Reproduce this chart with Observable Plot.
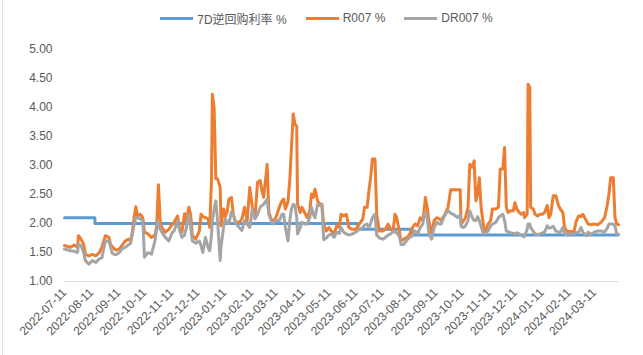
<!DOCTYPE html>
<html><head><meta charset="utf-8">
<script src="https://cdn.jsdelivr.net/npm/d3@7"></script>
<script src="https://cdn.jsdelivr.net/npm/@observablehq/plot@0.6"></script>
<style>
body{margin:0;background:#fff;font-family:"Liberation Sans","Noto Sans CJK SC",sans-serif;position:relative}
#legend{height:30px;display:flex;justify-content:center;align-items:center;gap:19px;font-size:12px;color:#595959;padding-top:6px;box-sizing:border-box;padding-left:10px}
.item{display:flex;align-items:center;gap:4px}
.sw{width:33px;height:3px}
#edge{position:absolute;left:2px;top:0;width:1px;height:355px;background:#E3E3E3}
</style></head><body>
<div id="edge"></div>
<div id="legend"></div>
<div id="chart"></div>
<script>
const dates = [
"2022-07-11","2022-07-18","2022-07-22","2022-07-26","2022-07-27","2022-07-30","2022-08-02","2022-08-04","2022-08-08","2022-08-12",
"2022-08-16","2022-08-20","2022-08-23","2022-08-27","2022-08-31","2022-09-02","2022-09-04","2022-09-08","2022-09-12","2022-09-15",
"2022-09-19","2022-09-23","2022-09-25","2022-09-27","2022-09-29","2022-10-01","2022-10-03","2022-10-06","2022-10-09","2022-10-11",
"2022-10-15","2022-10-19","2022-10-23","2022-10-25","2022-10-27","2022-10-29","2022-10-31","2022-11-04","2022-11-08","2022-11-12",
"2022-11-14","2022-11-18","2022-11-20","2022-11-23","2022-11-26","2022-11-28","2022-12-01","2022-12-03","2022-12-05","2022-12-09",
"2022-12-13","2022-12-15","2022-12-17","2022-12-20","2022-12-23","2022-12-25","2022-12-27","2022-12-28","2022-12-30","2023-01-01",
"2023-01-03","2023-01-06","2023-01-07","2023-01-10","2023-01-12","2023-01-14","2023-01-16","2023-01-19","2023-01-21","2023-01-24",
"2023-01-28","2023-01-31","2023-02-03","2023-02-06","2023-02-09","2023-02-12","2023-02-15","2023-02-18","2023-02-21","2023-02-23",
"2023-02-25","2023-03-01","2023-03-03","2023-03-07","2023-03-11","2023-03-15","2023-03-18",
"2023-03-20","2023-03-22","2023-03-25","2023-03-27","2023-03-29","2023-03-31","2023-04-02","2023-04-04","2023-04-05","2023-04-08",
"2023-04-10","2023-04-13","2023-04-16","2023-04-19","2023-04-21","2023-04-23","2023-04-25","2023-04-28","2023-05-01","2023-05-03",
"2023-05-05","2023-05-08","2023-05-11","2023-05-14","2023-05-17","2023-05-20","2023-05-23","2023-05-25","2023-05-28","2023-05-31",
"2023-06-03","2023-06-07","2023-06-11","2023-06-15","2023-06-19","2023-06-21","2023-06-24","2023-06-26","2023-06-28","2023-06-30",
"2023-07-03","2023-07-05","2023-07-08","2023-07-12","2023-07-15","2023-07-18","2023-07-21",
"2023-07-24","2023-07-26","2023-07-28","2023-07-31","2023-08-02","2023-08-05","2023-08-09","2023-08-12","2023-08-15","2023-08-18",
"2023-08-21","2023-08-24","2023-08-27","2023-08-28","2023-08-30","2023-09-01","2023-09-03","2023-09-06","2023-09-09","2023-09-12",
"2023-09-15","2023-09-17","2023-09-20","2023-09-22","2023-09-25","2023-09-28","2023-10-02","2023-10-06","2023-10-09","2023-10-10",
"2023-10-13","2023-10-15","2023-10-18","2023-10-20","2023-10-23","2023-10-25","2023-10-27","2023-10-29","2023-10-31","2023-11-02",
"2023-11-05","2023-11-07","2023-11-10","2023-11-13","2023-11-15","2023-11-19","2023-11-22","2023-11-24","2023-11-27",
"2023-11-29","2023-12-01","2023-12-03","2023-12-06","2023-12-09","2023-12-11","2023-12-13","2023-12-16","2023-12-18","2023-12-21",
"2023-12-22","2023-12-25","2023-12-26","2023-12-28","2023-12-29","2024-01-01","2024-01-03","2024-01-06","2024-01-09","2024-01-12",
"2024-01-14","2024-01-17","2024-01-19","2024-01-21","2024-01-24","2024-01-27","2024-01-30","2024-02-01","2024-02-04","2024-02-06",
"2024-02-09","2024-02-13","2024-02-17","2024-02-19","2024-02-22","2024-02-25","2024-02-27","2024-03-02","2024-03-04","2024-03-07",
"2024-03-11","2024-03-15","2024-03-19","2024-03-23","2024-03-26","2024-03-28","2024-03-30","2024-04-02","2024-04-04","2024-04-06",
"2024-04-08"
];
const r007 = [
1.62,1.59,1.63,1.59,1.79,1.73,1.64,1.47,1.44,1.47,
1.44,1.50,1.59,1.79,1.76,1.64,1.60,1.54,1.56,1.62,
1.70,1.73,1.70,1.85,2.10,2.29,2.13,2.16,2.10,1.85,
1.82,1.76,1.80,1.95,2.67,2.05,1.93,1.85,1.90,1.99,
2.02,2.13,1.93,1.85,2.17,2.05,2.28,2.16,1.79,1.73,
1.87,2.16,2.12,2.10,2.08,1.93,2.75,4.23,4.00,2.77,
2.77,2.62,1.96,2.25,2.12,2.20,2.42,2.45,2.16,2.02,
2.02,2.08,2.28,2.05,2.62,2.28,2.10,2.71,2.74,2.56,
2.45,3.02,2.19,2.02,2.10,2.28,2.39,
2.42,2.25,2.38,2.74,3.31,3.89,3.71,3.68,2.33,2.19,
2.28,2.19,2.10,2.22,2.51,2.45,2.59,2.39,2.33,2.33,
1.99,1.87,1.93,1.87,1.82,1.96,1.93,2.16,2.13,2.16,
1.93,1.90,1.90,1.99,2.08,2.28,2.28,2.56,2.79,3.11,
3.11,2.16,1.87,1.87,1.90,1.99,1.90,
1.90,2.16,2.10,1.87,1.70,1.73,1.76,1.82,1.93,1.99,
1.96,2.10,2.05,2.16,2.45,2.28,2.05,1.82,2.05,2.10,
2.08,2.05,2.12,2.18,2.28,2.58,2.58,2.58,2.58,1.99,
2.05,2.10,2.28,3.02,2.97,3.08,2.39,2.51,2.79,2.28,
1.93,1.87,1.99,2.05,2.25,2.25,2.28,2.94,2.94,
3.31,2.28,2.19,2.22,2.22,2.36,2.25,2.19,2.16,2.19,
2.10,2.16,4.40,4.35,2.28,2.25,2.16,2.13,2.16,2.16,
2.19,2.31,2.10,2.16,2.48,2.48,2.31,2.25,2.19,1.93,
1.86,1.86,1.86,2.02,2.13,2.12,2.16,2.05,1.99,1.98,
1.99,1.98,2.02,2.10,2.31,2.51,2.79,2.79,2.10,1.99,
1.98
];
const dr007 = [
1.56,1.53,1.52,1.50,1.64,1.62,1.50,1.36,1.30,1.36,
1.33,1.39,1.41,1.70,1.70,1.60,1.48,1.46,1.50,1.56,
1.59,1.64,1.66,1.82,1.98,2.10,2.10,2.08,2.05,1.42,
1.50,1.47,1.70,1.90,2.05,1.90,1.85,1.76,1.70,1.85,
1.87,2.05,1.90,1.76,1.80,1.92,2.16,1.95,1.70,1.66,
1.70,1.62,1.50,1.76,1.59,1.53,1.80,2.05,2.25,2.39,
2.05,1.36,1.60,1.95,2.08,2.02,2.00,2.20,2.15,2.00,
1.93,1.88,2.05,1.99,1.93,2.25,2.08,2.16,2.28,2.31,
2.33,2.42,2.16,1.99,2.05,2.05,2.16,
2.16,1.93,1.70,2.05,2.25,2.33,2.31,2.10,1.82,1.93,
2.02,1.99,1.99,2.10,2.28,2.16,2.10,2.33,2.31,2.31,
1.72,1.75,1.80,1.82,1.76,1.85,1.83,1.93,1.85,1.82,
1.80,1.82,1.85,1.90,1.93,1.97,1.99,1.93,2.00,2.10,
2.16,1.80,1.75,1.73,1.76,1.80,1.82,
1.87,1.85,1.84,1.78,1.64,1.64,1.72,1.76,1.79,1.87,
1.82,1.93,1.99,2.10,2.19,2.10,1.82,1.73,1.93,2.02,
1.99,1.99,2.10,2.16,2.22,2.18,2.15,2.10,2.15,1.95,
1.93,1.96,2.05,2.22,2.10,2.05,2.05,2.12,2.05,1.95,
1.82,1.84,1.87,1.96,1.99,2.02,2.10,2.13,2.16,
2.05,1.87,1.86,1.84,1.83,1.82,1.84,1.82,1.80,1.77,
1.78,1.90,1.99,1.99,1.93,1.87,1.82,1.81,1.82,1.84,
1.85,1.96,1.92,1.93,1.95,1.87,1.85,1.85,1.93,1.82,
1.81,1.83,1.82,1.84,1.85,1.93,1.85,1.79,1.85,1.81,
1.85,1.87,1.87,1.85,1.92,1.99,1.99,1.99,1.96,1.82,
1.81
];
const policyDates = ["2022-07-11","2022-08-15","2023-06-13","2023-08-15","2024-04-08"];
const policyRates = [2.10,2.00,1.90,1.80,1.80];
const tickLabels = ["2022-07-11","2022-08-11","2022-09-11","2022-10-11","2022-11-11","2022-12-11","2023-01-11","2023-02-11","2023-03-11","2023-04-11","2023-05-11","2023-06-11","2023-07-11","2023-08-11","2023-09-11","2023-10-11","2023-11-11","2023-12-11","2024-01-11","2024-02-11","2024-03-11"];
const yTicks = [1.0,1.5,2.0,2.5,3.0,3.5,4.0,4.5,5.0];
const seriesNames = ["7D逆回购利率 %","R007 %","DR007 %"];
const colors = ["#5B9BD5","#ED7D31","#A5A5A5"];

const parse = d3.utcParse("%Y-%m-%d");
const rows = dates.map((d,i)=>({date:parse(d), r:r007[i], dr:dr007[i]}));
const policy = policyDates.map((d,i)=>({date:parse(d), v:policyRates[i]}));
const ticks = tickLabels.map(parse);

const legend = document.getElementById("legend");
seriesNames.forEach((n,i)=>{
  const it = document.createElement("div"); it.className="item";
  const sw = document.createElement("div"); sw.className="sw"; sw.style.background=colors[i];
  const tx = document.createElement("span"); tx.textContent=n;
  it.appendChild(sw); it.appendChild(tx); legend.appendChild(it);
});

const chart = Plot.plot({
  width:643, height:325,
  marginTop:19, marginBottom:74, marginLeft:64, marginRight:25,
  style:{fontFamily:'"Liberation Sans","Noto Sans CJK SC",sans-serif', color:"#595959", background:"#fff"},
  x:{type:"utc", domain:[parse("2022-07-11"), parse("2024-04-08")]},
  y:{domain:[1,5]},
  marks:[
    Plot.ruleY([1],{stroke:"#D9D9D9", strokeWidth:1}),
    Plot.axisY({ticks:yTicks, tickFormat:d=>d.toFixed(2), tickSize:0, tickPadding:12, fontSize:12, label:null}),
    Plot.axisX({ticks:ticks, tickFormat:d3.utcFormat("%Y-%m-%d"), tickRotate:-45, tickSize:0, tickPadding:9, fontSize:12, label:null}),
    Plot.line(policy,{x:"date", y:"v", stroke:colors[0], strokeWidth:3, curve:"step-after"}),
    Plot.line(rows,{x:"date", y:"r", stroke:colors[1], strokeWidth:3, strokeLinejoin:"round"}),
    Plot.line(rows,{x:"date", y:"dr", stroke:colors[2], strokeWidth:3, strokeLinejoin:"round"})
  ]
});
document.getElementById("chart").appendChild(chart);
</script>
</body></html>
